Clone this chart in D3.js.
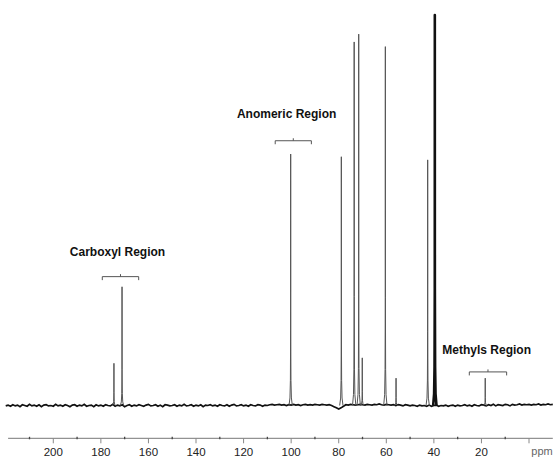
<!DOCTYPE html>
<html>
<head>
<meta charset="utf-8">
<script src="https://cdn.jsdelivr.net/npm/d3@7/dist/d3.min.js"></script>
<style>
  html, body { margin: 0; padding: 0; background: #fff; }
  svg { display: block; font-family: Arial, "Liberation Sans", sans-serif; }
</style>
</head>
<body>
<svg id="chart" width="555" height="457"></svg>
<script>
// ---- data ----
// peak chemical shifts (ppm) and relative intensities (tallest = 100)
const peakPpm       = [174.5, 171.1, 100.2, 78.9, 73.5, 71.6, 70.1, 60.4, 55.9, 42.6, 39.6, 18.4];
const peakIntensity = [10.8,  30.4,  64.4,  63.7, 93.1, 95.1, 12.2, 91.9, 7.0,  62.9, 100,  7.0];
const peakIsSolvent = [false, false, false, false, false, false, false, false, false, false, true, false];

// baseline noise sampled every 1 ppm, starting at 220 ppm
const noiseStartPpm = 220;
const noiseStepPpm = 1;
const noiseValues = [
  -0.1,
  0.1,-0.2,0.2,-0.1,0.1,-0.3,0.2,0.0,-0.2,0.3,  -0.1,0.1,-0.2,0.2,-0.3,0.1,0.2,-0.1,0.0,-0.2,
  0.3,-0.1,0.1,-0.2,0.2,0.0,-0.3,0.1,0.2,-0.2,  0.1,-0.1,0.3,-0.2,0.0,0.1,-0.3,0.2,-0.1,0.1,
  -0.2,0.2,0.0,-0.1,0.3,-0.2,0.1,-0.1,0.2,-0.3,  0.0,0.2,-0.2,0.1,-0.1,0.2,0.0,-0.2,0.1,0.3,
  -0.1,0.0,0.2,-0.2,0.1,-0.3,0.2,0.1,-0.1,0.0,  0.2,-0.2,0.1,-0.1,0.3,-0.1,0.0,0.2,-0.2,0.1,
  -0.1,0.2,-0.3,0.1,0.0,0.2,-0.1,0.1,-0.2,0.2,  0.0,-0.1,0.2,-0.2,0.1,0.3,-0.1,0.0,0.2,-0.1,
  0.1,-0.2,0.2,0.0,-0.1,0.2,0.1,-0.2,0.1,0.0,  0.2,0.3,0.1,0.2,0.3,0.1,0.2,0.0,0.2,0.1,
  0.3,0.1,0.2,0.0,0.2,0.3,0.1,0.2,0.1,0.3,  0.2,0.1,0.3,0.2,0.1,0.2,0.0,-0.3,-0.6,-0.9,
  -0.6,-0.2,0.2,0.1,0.3,0.2,0.1,0.2,0.3,0.2,  0.1,0.3,0.2,0.1,0.3,0.2,0.4,0.2,0.1,0.3,
  0.2,0.1,0.2,0.0,0.2,0.1,-0.1,0.2,0.1,-0.1,  0.1,0.0,-0.2,0.1,-0.1,0.0,-0.2,0.1,-0.2,0.0,
  0.1,-0.2,0.0,-0.1,0.1,-0.2,0.0,0.1,-0.2,0.1,  -0.1,0.0,0.2,-0.1,0.1,-0.2,0.2,0.0,-0.1,0.2,
  0.1,-0.1,0.2,0.0,0.3,-0.1,0.2,0.1,0.0,0.3,  0.2,-0.1,0.3,0.1,0.2,0.4,0.1,0.3,0.2,0.3,
  0.1,0.3,0.2,0.4,0.1,0.3,0.2,0.4,0.2,0.3
];

// axis ticks
const majorTicks = [200, 180, 160, 140, 120, 100, 80, 60, 40, 20];
const minorTicks = [210, 190, 170, 150, 130, 110, 90, 70, 50, 30, 10];
const zeroTick = 0;
const axisUnit = "ppm";

// region annotations
const regionNames  = ["Carboxyl Region", "Anomeric Region", "Methyls Region"];
const regionFrom   = [179.4, 106.7, 25.1];
const regionTo     = [164.1, 91.5, 9.4];
const regionLevel  = [33.0, 67.8, 8.6];   // bracket height (intensity units)
const labelCenter  = [173.0, 101.9, 17.8]; // label centre (ppm)
const labelLevel   = [38.4, 73.6, 13.3];  // label baseline height

// ---- drawing ----
const svg = d3.select("#chart");
const x = d3.scaleLinear().domain([219, -10]).range([8.1, 552.8]);
const y = d3.scaleLinear().domain([0, 100]).range([405.5, 15]);

// baseline noise
const noisePts = noiseValues.map((v, i) => [noiseStartPpm - i * noiseStepPpm, v]);
svg.append("path")
  .attr("d", d3.line().x(d => x(d[0])).y(d => y(d[1])).curve(d3.curveLinear)(noisePts))
  .attr("fill", "none").attr("stroke", "#111").attr("stroke-width", 1.7);

// peaks
const peakShape = (p, h) => [
  [p - 0.7, 0], [p - 0.3, h * 0.03], [p - 0.12, h * 0.1], [p - 0.02, h * 0.3], [p, h],
  [p + 0.02, h * 0.3], [p + 0.12, h * 0.1], [p + 0.3, h * 0.03], [p + 0.7, 0]
];
const peakLine = d3.line().x(d => x(d[0])).y(d => y(d[1]));
peakPpm.forEach((p, i) => {
  const solvent = peakIsSolvent[i];
  svg.append("path")
    .attr("d", peakLine(peakShape(p, peakIntensity[i])))
    .attr("fill", "none")
    .attr("stroke", solvent ? "#111" : "#555")
    .attr("stroke-width", solvent ? 2.6 : 1.0)
    .attr("stroke-linejoin", "round");
});

// axis
const axisY = 438.3;
const g = svg.append("g");
g.append("line")
  .attr("x1", x(219)).attr("x2", x(-10)).attr("y1", axisY).attr("y2", axisY)
  .attr("stroke", "#777").attr("stroke-width", 1);
g.selectAll(".major").data(majorTicks.concat([zeroTick])).enter().append("line")
  .attr("x1", d => x(d)).attr("x2", d => x(d))
  .attr("y1", axisY).attr("y2", axisY + 5)
  .attr("stroke", "#888").attr("stroke-width", 1);
g.selectAll(".minor").data(minorTicks).enter().append("line")
  .attr("x1", d => x(d)).attr("x2", d => x(d))
  .attr("y1", axisY - 1.5).attr("y2", axisY + 1)
  .attr("stroke", "#444").attr("stroke-width", 1.3);
g.selectAll(".lab").data(majorTicks).enter().append("text")
  .attr("x", d => x(d)).attr("y", 456)
  .attr("text-anchor", "middle")
  .attr("font-size", 11.5).attr("fill", "#222")
  .text(d => d);
g.append("text")
  .attr("x", x(zeroTick) + 13).attr("y", 455)
  .attr("text-anchor", "middle")
  .attr("font-size", 11).attr("fill", "#666")
  .text(axisUnit);

// region brackets and labels
regionNames.forEach((name, i) => {
  const x1 = x(regionFrom[i]), x2 = x(regionTo[i]), yy = y(regionLevel[i]);
  const xm = (x1 + x2) / 2;
  svg.append("path")
    .attr("d", `M${x1},${yy + 3.5}L${x1},${yy}L${x2},${yy}L${x2},${yy + 3.5}M${xm},${yy}L${xm},${yy - 2.5}`)
    .attr("fill", "none").attr("stroke", "#555").attr("stroke-width", 1);
  svg.append("text")
    .attr("x", x(labelCenter[i])).attr("y", y(labelLevel[i]))
    .attr("text-anchor", "middle")
    .attr("font-size", 12).attr("font-weight", "bold").attr("fill", "#111")
    .text(name);
});
</script>
</body>
</html>
